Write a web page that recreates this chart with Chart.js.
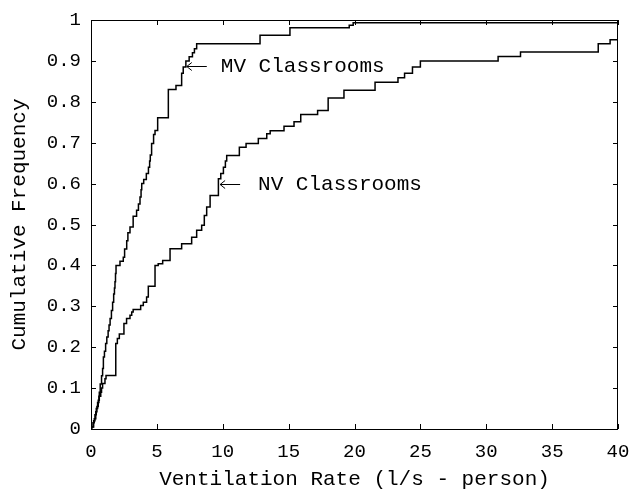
<!DOCTYPE html>
<html>
<head>
<meta charset="utf-8">
<script src="https://cdn.jsdelivr.net/npm/chart.js@4.4.1/dist/chart.umd.min.js"></script>
<style>
    html, body { margin: 0; padding: 0; background: #fff; }
    canvas { display: block; }
</style>
</head>
<body>
<canvas id="cdfChart" width="630" height="489"></canvas>
<script>
// MV classrooms: rate where the step happens, cumulative frequency after it
const mvRate = [0, 0.05, 0.15, 0.25, 0.36, 0.45, 0.55, 0.63, 0.7, 0.8, 0.88, 0.94, 1.02, 1.11, 1.2, 1.3, 1.37, 1.45, 1.55, 1.64,
    1.72, 1.78, 1.82, 1.86, 1.9, 2.2, 2.45, 2.55, 2.71, 2.8, 2.96, 3.2, 3.46, 3.6, 3.72, 3.8, 3.85, 4.0, 4.2, 4.36,
    4.45, 4.5, 4.6, 4.75, 4.86, 5.06, 5.87, 6.45, 6.88, 7.0, 7.2, 7.45, 7.7, 7.85, 8.02, 12.83, 15.1, 19.6, 19.9, 40];
const mvFreq = [0, 0.005, 0.015, 0.025, 0.042, 0.055, 0.07, 0.09, 0.11, 0.13, 0.148, 0.176, 0.19, 0.209, 0.225, 0.24, 0.254, 0.27, 0.29, 0.31,
    0.33, 0.345, 0.36, 0.38, 0.4, 0.41, 0.42, 0.44, 0.46, 0.48, 0.494, 0.52, 0.535, 0.55, 0.567, 0.585, 0.6, 0.61, 0.625, 0.64,
    0.655, 0.67, 0.698, 0.72, 0.73, 0.761, 0.83, 0.84, 0.87, 0.885, 0.9, 0.91, 0.92, 0.93, 0.942, 0.963, 0.981, 0.987, 0.993, 0.993];

// NV classrooms
const nvRate = [0, 0.05, 0.2, 0.3, 0.4, 0.5, 0.6, 0.74, 0.8, 0.88, 1.06, 1.14, 1.88, 2.0, 2.15, 2.5, 2.7, 2.96, 3.09, 3.2,
    3.77, 3.97, 4.22, 4.35, 4.86, 5.1, 5.44, 6.0, 6.88, 7.64, 8.02, 8.4, 8.6, 8.78, 9.04, 9.67, 9.85, 10.05, 10.2, 10.3,
    11.26, 11.77, 12.7, 13.34, 13.6, 14.65, 15.41, 15.92, 17.2, 18.0, 19.2, 21.56, 23.3, 23.8, 24.4, 25.0, 30.9, 32.6, 38.5, 39.4, 40];
const nvFreq = [0, 0.005, 0.02, 0.035, 0.05, 0.065, 0.08, 0.09, 0.1, 0.111, 0.123, 0.131, 0.209, 0.221, 0.232, 0.258, 0.27, 0.278, 0.286, 0.292,
    0.302, 0.31, 0.323, 0.349, 0.4, 0.404, 0.412, 0.441, 0.453, 0.469, 0.486, 0.498, 0.522, 0.543, 0.571, 0.612, 0.625, 0.64, 0.655, 0.669,
    0.689, 0.698, 0.71, 0.722, 0.729, 0.74, 0.751, 0.769, 0.779, 0.809, 0.828, 0.848, 0.859, 0.87, 0.885, 0.9, 0.911, 0.922, 0.942, 0.952, 0.952];

const xTicks = [0, 5, 10, 15, 20, 25, 30, 35, 40];
const xTickLabels = ['0', '5', '10', '15', '20', '25', '30', '35', '40'];
const yTicks = [0, 0.1, 0.2, 0.3, 0.4, 0.5, 0.6, 0.7, 0.8, 0.9, 1];
const yTickLabels = ['0', '0.1', '0.2', '0.3', '0.4', '0.5', '0.6', '0.7', '0.8', '0.9', '1'];

const seriesNames = ['MV Classrooms', 'NV Classrooms'];
// arrow tip and label start, in data units
const noteTips = [[7.27, 0.887], [9.8, 0.6]];
const noteTextX = [9.85, 12.68];

const FONT = "'Liberation Mono', 'Courier New', monospace";

const toPoints = (xs, ys) => xs.map((x, i) => ({ x: x, y: ys[i] }));

const frameAndNotes = {
    id: 'frameAndNotes',
    afterDatasetsDraw(chart) {
        const { ctx, chartArea: a, scales } = chart;
        const x = scales.x, y = scales.y;
        ctx.save();
        ctx.strokeStyle = '#000';
        ctx.lineWidth = 1;
        ctx.strokeRect(a.left + 0.5, a.top + 0.5, a.right - a.left - 1, a.bottom - a.top);

        // inward ticks on all four sides
        const len = 5;
        ctx.beginPath();
        xTicks.forEach(v => {
            const px = Math.round(x.getPixelForValue(v)) + 0.5;
            ctx.moveTo(px, a.bottom); ctx.lineTo(px, a.bottom - len);
            ctx.moveTo(px, a.top); ctx.lineTo(px, a.top + len);
        });
        yTicks.forEach(v => {
            const py = Math.round(y.getPixelForValue(v)) + 0.5;
            ctx.moveTo(a.left, py); ctx.lineTo(a.left + len, py);
            ctx.moveTo(a.right, py); ctx.lineTo(a.right - len, py);
        });
        ctx.stroke();

        // arrows and labels
        ctx.font = '21px ' + FONT;
        ctx.fillStyle = '#000';
        ctx.textBaseline = 'middle';
        seriesNames.forEach((name, i) => {
            const tx = x.getPixelForValue(noteTips[i][0]);
            const ty = Math.round(y.getPixelForValue(noteTips[i][1])) + 0.5;
            ctx.beginPath();
            ctx.moveTo(tx, ty); ctx.lineTo(tx + 20, ty);
            ctx.moveTo(tx + 5, ty - 4); ctx.lineTo(tx, ty); ctx.lineTo(tx + 5, ty + 4);
            ctx.stroke();
            ctx.fillText(name, x.getPixelForValue(noteTextX[i]), ty);
        });
        ctx.restore();
    }
};

new Chart(document.getElementById('cdfChart'), {
    type: 'line',
    data: {
        datasets: [{
            label: seriesNames[0],
            data: toPoints(mvRate, mvFreq),
            borderColor: '#000',
            borderWidth: 1.5,
            pointRadius: 0,
            stepped: 'before',
            fill: false
        }, {
            label: seriesNames[1],
            data: toPoints(nvRate, nvFreq),
            borderColor: '#000',
            borderWidth: 1.5,
            pointRadius: 0,
            stepped: 'before',
            fill: false
        }]
    },
    options: {
        responsive: false,
        animation: false,
        layout: { padding: { top: 20, right: 12, left: 0, bottom: 0 } },
        plugins: {
            legend: { display: false },
            tooltip: { enabled: false }
        },
        scales: {
            x: {
                type: 'linear',
                min: 0,
                max: 40,
                afterBuildTicks: scale => { scale.ticks = xTicks.map(v => ({ value: v })); },
                afterFit: scale => {
                    scale.height = 60;
                    scale.paddingLeft = 0;
                    scale.paddingRight = 0;
                },
                grid: { display: false, drawTicks: false },
                border: { display: false },
                ticks: {
                    color: '#000',
                    font: { family: FONT, size: 19 },
                    padding: 12,
                    maxRotation: 0,
                    callback: (v, i) => xTickLabels[i]
                },
                title: {
                    display: true,
                    text: 'Ventilation Rate (l/s - person)',
                    color: '#000',
                    font: { family: FONT, size: 21 },
                    padding: { top: 0, bottom: -3 }
                }
            },
            y: {
                type: 'linear',
                min: 0,
                max: 1,
                afterBuildTicks: scale => { scale.ticks = yTicks.map(v => ({ value: v })); },
                afterFit: scale => {
                    scale.width = 91;
                    scale.paddingTop = 0;
                    scale.paddingBottom = 0;
                },
                grid: { display: false, drawTicks: false },
                border: { display: false },
                ticks: {
                    color: '#000',
                    font: { family: FONT, size: 19 },
                    padding: 10,
                    callback: (v, i) => yTickLabels[i]
                },
                title: {
                    display: true,
                    text: 'Cumulative Frequency',
                    color: '#000',
                    font: { family: FONT, size: 21 },
                    padding: { top: 7, bottom: 0 }
                }
            }
        }
    },
    plugins: [frameAndNotes]
});
</script>
</body>
</html>
